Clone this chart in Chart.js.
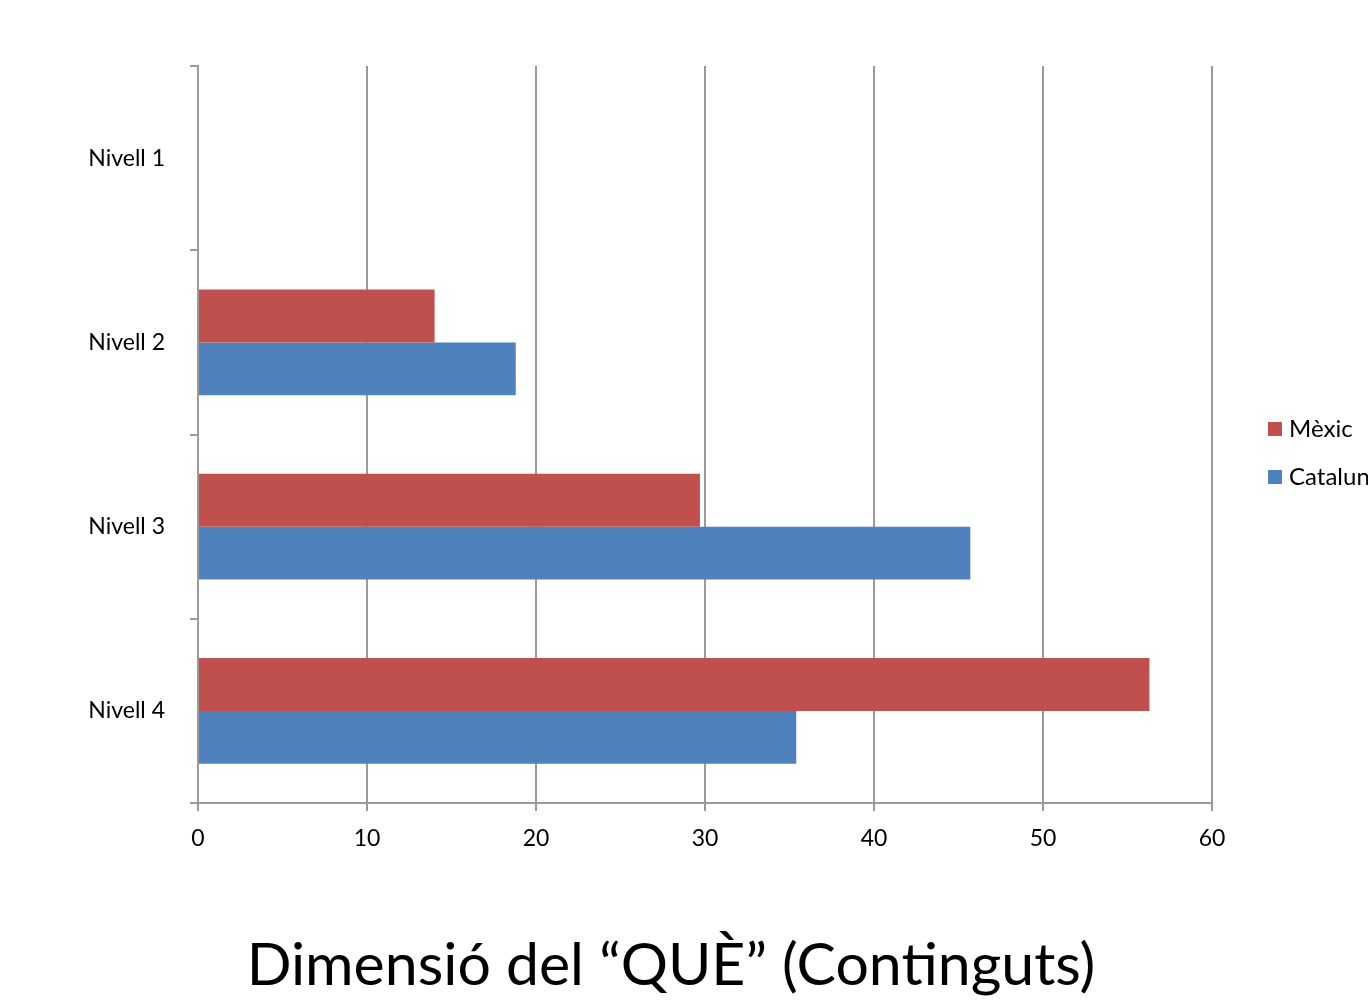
<!DOCTYPE html>
<html>
<head>
<meta charset="utf-8">
<script src="https://cdn.jsdelivr.net/npm/chart.js@4.4.1/dist/chart.umd.min.js"></script>
<style>
  html, body { margin: 0; padding: 0; background: #fff; overflow: hidden; }
  #wrap { width: 1368px; height: 1001px; }
</style>
</head>
<body>
<div id="wrap"><canvas id="graph" width="1368" height="1001"></canvas></div>
<script>
// data
const nivells = ['Nivell 1', 'Nivell 2', 'Nivell 3', 'Nivell 4'];
const mexic = [null, 14, 29.7, 56.3];
const catalunya = [null, 18.8, 45.7, 35.4];
const seriesNames = ['Mèxic', 'Catalunya'];
const seriesColors = ['#C0504D', '#4F81BD'];
const titleText = 'Dimensió del \u201cQUÈ\u201d (Continguts)';

const fontFamily = 'Lato, "Open Sans", sans-serif';
const gridGrey = '#9a9a9a';

// legend + title drawn by hand so they sit where the original has them
const sideLegend = {
    id: 'sideLegend',
    afterDraw(chart) {
        const ctx = chart.ctx;
        const area = chart.chartArea;
        const x = area.right + 56;
        const y0 = 429;
        ctx.save();
        ctx.font = '24px ' + fontFamily;
        ctx.textBaseline = 'middle';
        ctx.textAlign = 'left';
        seriesNames.forEach((name, i) => {
            let y = y0 + i * 48;
            ctx.fillStyle = seriesColors[i];
            ctx.fillRect(x, y - 7, 14, 14);
            ctx.fillStyle = '#000';
            ctx.fillText(name, x + 21, y);
        });

        // title under the axis, a bit left of the plot centre
        ctx.font = '59px ' + fontFamily;
        ctx.textAlign = 'center';
        ctx.fillText(titleText, (area.left + area.right) / 2 - 34, area.bottom + 163);
        ctx.restore();
    }
};

const ctx = document.getElementById('graph').getContext('2d');

const data = {
    labels: nivells,
    datasets: [
        {
            label: seriesNames[0],
            data: mexic,
            backgroundColor: seriesColors[0],
            borderWidth: 0,
            categoryPercentage: 0.575,
            barPercentage: 1.0
        },
        {
            label: seriesNames[1],
            data: catalunya,
            backgroundColor: seriesColors[1],
            borderWidth: 0,
            categoryPercentage: 0.575,
            barPercentage: 1.0
        }
    ]
};

const options = {
    indexAxis: 'y',
    responsive: false,
    animation: false,
    layout: {
        padding: { top: 66, left: 0, right: 156, bottom: 198 - 60 }
    },
    scales: {
        x: {
            min: 0,
            max: 60,
            ticks: {
                stepSize: 10,
                color: '#000',
                padding: 14,
                font: { family: fontFamily, size: 23 }
            },
            grid: {
                color: gridGrey,
                lineWidth: 2,
                tickLength: 8
            },
            border: { color: gridGrey, width: 2 },
            afterFit(scale) { scale.height = 60; }
        },
        y: {
            ticks: {
                color: '#000',
                padding: 25,
                font: { family: fontFamily, size: 23 }
            },
            grid: {
                offset: true,
                drawOnChartArea: false,
                color: gridGrey,
                lineWidth: 2,
                tickLength: 8
            },
            border: { color: gridGrey, width: 2 },
            afterFit(scale) { scale.width = 198; }
        }
    },
    plugins: {
        legend: { display: false },
        tooltip: { enabled: false },
        title: { display: false }
    }
};

window.myChart = new Chart(ctx, {
    type: 'bar',
    data: data,
    options: options,
    plugins: [sideLegend]
});
</script>
</body>
</html>
